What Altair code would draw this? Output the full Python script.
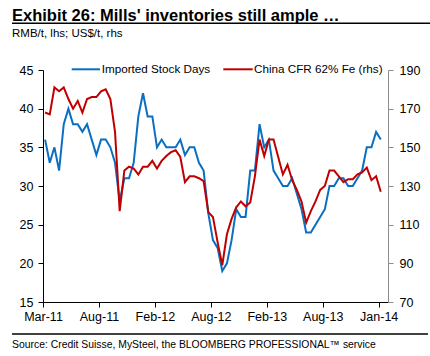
import altair as alt
import pandas as pd

title_text = "Exhibit 26: Mills' inventories still ample …"
subtitle_text = "RMB/t, lhs; US$/t, rhs"
source_text = "Source: Credit Suisse, MySteel, the BLOOMBERG PROFESSIONAL™ service"
series_names = ["Imported Stock Days", "China CFR 62% Fe (rhs)"]
tick_labels = ["Mar-11", "Aug-11", "Feb-12", "Aug-12", "Feb-13", "Aug-13", "Jan-14"]
left_ticks = [15, 20, 25, 30, 35, 40, 45]
right_ticks = [70, 90, 110, 130, 150, 170, 190]

stock_days = [36, 33, 35, 32, 38, 40, 38, 38, 37, 38,
              36, 34, 36, 36, 35, 33, 28, 31, 31, 33,
              39, 42, 39, 39, 35, 36, 35, 35, 35, 36,
              34, 35, 35, 33, 32, 26.5, 23, 22, 19, 20,
              23, 27, 26, 26, 32, 32, 38, 35, 36, 32,
              31, 30, 30, 31, 29, 27, 24, 24, 25, 26,
              27, 30, 30, 31, 31, 30, 30, 31, 32, 35,
              35, 37, 36]
cfr_price = [168, 167, 181, 179, 181, 175, 170, 174, 168, 175,
             176, 176, 179, 180, 175, 158, 117, 138, 140, 139,
             136, 140, 140, 143, 139, 143, 145.5, 147.5, 148.5, 145,
             132, 135, 135, 134, 132.5, 116.5, 114, 101, 89, 105,
             113, 119, 122, 119.5, 121.5, 135, 154, 145.5, 154, 154,
             145, 136, 141, 133, 128, 122, 111, 117, 122, 128,
             130, 138, 138, 135, 132, 133.5, 133.5, 136, 137, 139.5,
             133, 135, 127]

FONT = "Liberation Sans"
BLUE = "#0A6FC2"
RED = "#C00000"
W, H = 345, 232

idx = [i + 0.45 for i in range(len(stock_days))]
df = pd.DataFrame({"idx": idx, "days": stock_days, "cfr": cfr_price})

label_expr = "[" + ",".join("'%s'" % t for t in tick_labels) + "][round(datum.value/12)]"
x_scale = alt.Scale(domain=[0, 74], nice=False, zero=False)


def x_axis():
    return alt.Axis(values=[12 * k for k in range(len(tick_labels))], labelExpr=label_expr,
                    title=None, grid=False, domainColor="black", tickColor="black",
                    tickSize=5, labelFontSize=12.5, labelPadding=3, labelColor="black",
                    labelFont=FONT, labelFlush=False, labelOverlap=False)


blue = alt.Chart(df).mark_line(color=BLUE, strokeWidth=2).encode(
    x=alt.X("idx:Q", scale=x_scale, axis=x_axis()),
    y=alt.Y("days:Q", scale=alt.Scale(domain=[15, 45], nice=False, zero=False),
            axis=alt.Axis(values=left_ticks, title=None, grid=False, domainColor="black",
                          tickColor="black", tickSize=5, labelFontSize=12.5, labelPadding=5,
                          labelColor="black", labelFont=FONT, labelOverlap=False)),
)
red = alt.Chart(df).mark_line(color=RED, strokeWidth=2).encode(
    x=alt.X("idx:Q", scale=x_scale, axis=x_axis()),
    y=alt.Y("cfr:Q", scale=alt.Scale(domain=[70, 190], nice=False, zero=False),
            axis=alt.Axis(orient="right", values=right_ticks, title=None, grid=False,
                          domainColor="#8c8c8c", tickColor="#8c8c8c", tickSize=5,
                          labelFontSize=12.5, labelPadding=6, labelColor="black",
                          labelFont=FONT, labelOverlap=False)),
)

one = pd.DataFrame({"a": [0]})


def text_layer(txt, x, y, size, weight="normal", baseline="middle"):
    return alt.Chart(pd.DataFrame({"t": [txt]})).mark_text(
        align="left", baseline=baseline, font=FONT, fontSize=size,
        fontWeight=weight, color="black").encode(
        x=alt.value(x), y=alt.value(y), text="t:N")


def rule_layer(x1, x2, y, color, width):
    return alt.Chart(one).mark_rule(color=color, strokeWidth=width).encode(
        x=alt.value(x1), x2=alt.value(x2), y=alt.value(y))


annotations = [
    text_layer(title_text, -31, -49.3, 16.5, "bold", "alphabetic"),
    rule_layer(-31, 387, -46.7, "black", 1.5),
    text_layer(subtitle_text, -31, -33, 11.5, "normal", "alphabetic"),
    rule_layer(28.7, 57, -0.7, BLUE, 2),
    text_layer(series_names[0], 58.7, -0.7, 11.7),
    rule_layer(180.3, 209.7, -0.7, RED, 2),
    text_layer(series_names[1], 211, -0.7, 11.7),
    rule_layer(-31, 385, 264, "black", 1.5),
    text_layer(source_text, -31, 275, 10.4),
]

chart = alt.layer(blue, red, *annotations).resolve_scale(y="independent").properties(
    width=W, height=H,
    padding={"left": 43, "top": 70, "right": 42, "bottom": 54},
    autosize=alt.AutoSizeParams(type="none"),
).configure_view(stroke=None)

chart.save("out.html", embed_options={"renderer": "svg", "actions": False})
